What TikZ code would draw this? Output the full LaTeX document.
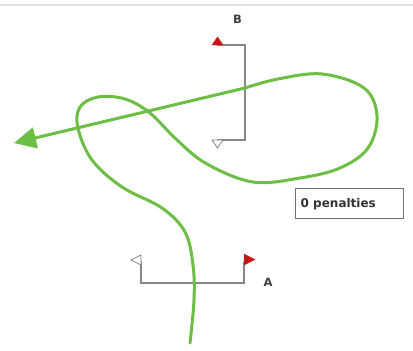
\documentclass[tikz,border=0pt]{standalone}
\usepackage{fontspec}
\setmainfont{DejaVu Sans}
\usetikzlibrary{arrows.meta}
\definecolor{trackgreen}{RGB}{108,190,68}
\definecolor{flagred}{RGB}{200,20,20}
\definecolor{gatgray}{RGB}{135,135,135}
\definecolor{rulegray}{RGB}{225,225,225}
\tikzset{
  gateline/.style={draw=gatgray, line width=1.3pt},
  redflag/.style={fill=flagred, draw=flagred, line width=0.4pt},
  whiteflag/.style={fill=white, draw=gatgray, line width=0.8pt},
  track/.style={draw=trackgreen, line width=3pt, line cap=round},
  lbl/.style={font=\bfseries\fontsize{11.5}{12}\selectfont, text=black!75, inner sep=0pt},
}
\begin{document}
\begin{tikzpicture}[x=1pt,y=-1pt]
\useasboundingbox (0,0) rectangle (413,351);
\fill[white] (0,0) rectangle (413,351);
\draw[rulegray, line width=1.5pt] (0,5) -- (413,5);

% gate B
\draw[gateline] (217,45) -- (245,45) -- (245,140) -- (217,140);
\draw[redflag] (212,45) -- (223,45) -- (217.5,37) -- cycle;
\draw[whiteflag] (212,140) -- (223,140) -- (217.5,148) -- cycle;
\node[lbl] (labB) at (237.5,19.5) {B};

% gate A
\draw[gateline] (141,261) -- (141,283) -- (244,283) -- (244,262);
\draw[whiteflag] (141,255) -- (141,265) -- (131,260) -- cycle;
\draw[redflag] (244,254) -- (244,265) -- (255,259.5) -- cycle;
\node[lbl] (labA) at (268,282) {A};

% penalties box
\node[draw=gatgray!85!black, line width=1pt, minimum width=108pt, minimum height=30pt, inner sep=0pt,
      anchor=north west] (pen) at (295,188) {};
\node[anchor=west, font=\bfseries\fontsize{12}{13}\selectfont, text=black!80, inner sep=0pt] (pentxt) at (300.5,204) {0 penalties};

% track
\coordinate (turn) at (245,88);
\coordinate (tip) at (14,143);
\draw[track] plot[smooth, tension=0.6] coordinates {
  (190,343) (194,300) (193,265) (185,232) (162,208) (122,187) (92,160)
  (78,128) (80,107) (98,97) (125,99) (150,113) (177,140) (207,164)
  (253,182) (300,178) (340,168) (368,148) (377,116) (364,88) (322,74)
  (278,79) (245,88)};
\draw[track, line cap=butt, -{Triangle[length=22pt,width=21pt]}] (turn) -- (tip);
\end{tikzpicture}
\end{document}
